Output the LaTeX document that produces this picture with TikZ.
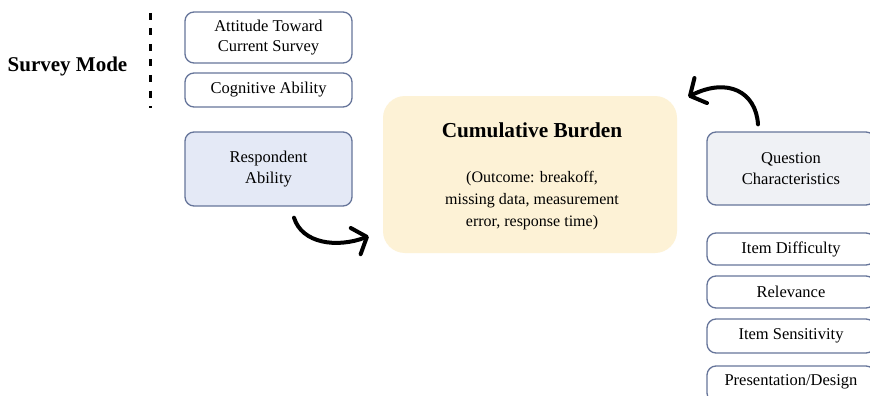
\documentclass[tikz,border=0pt]{standalone}
\usepackage{fontspec}
\setmainfont{Liberation Serif}
\usetikzlibrary{arrows.meta,calc}
\definecolor{boxline}{HTML}{66759A}
\definecolor{respfill}{HTML}{E4E9F6}
\definecolor{qcfill}{HTML}{EFF1F5}
\definecolor{cumfill}{HTML}{FDF2D6}
\tikzset{
  smallbox/.style={draw=boxline, line width=1.3pt, rounded corners=9pt, fill=white,
    minimum width=167pt, align=center, inner sep=0pt,
    font=\fontsize{16.5}{20.5}\selectfont},
  rightbox/.style={smallbox, minimum width=168pt},
  burdenarrow/.style={line width=4pt, line cap=round,
    -{Straight Barb[length=12pt,width=28pt,line cap=round,line join=round]}},
  plain/.style={inner sep=0pt, align=center, font=\fontsize{16}{20.5}\selectfont}
}
\begin{document}
\begin{tikzpicture}[x=1pt,y=-1pt]
\useasboundingbox (0,0) rectangle (870,396);
\clip (0,0) rectangle (870,396);
\fill[white] (0,0) rectangle (870,396);

% left side
\node[inner sep=0pt, font=\fontsize{21}{24}\selectfont\bfseries] (mode) at (67.5,66) {Survey Mode};
\coordinate (dtop) at (150.5,13);
\coordinate (dbot) at (150.5,108);
\draw[line width=2.8pt, dash pattern=on 7pt off 8.5pt] (dtop) -- (dbot);

\node[smallbox, minimum height=51pt] (att) at (268.5,37.5) {Attitude Toward\\Current Survey};
\node[smallbox, minimum height=34pt] (cog) at (268.5,90) {Cognitive Ability};
\node[smallbox, minimum height=74pt, fill=respfill] (resp) at (268.5,169) {Respondent\\Ability};

% centre
\node[fill=cumfill, rounded corners=22pt, minimum width=294pt, minimum height=157pt] (cum) at (530,174.5) {};
\node[inner sep=0pt, font=\fontsize{21.3}{24}\selectfont\bfseries] (cumtitle) at (532,130) {Cumulative Burden};
\node[plain, text depth=0pt] (cumtext) at (532,198.5) {(Outcome: breakoff,\\[1.5pt]missing data, measurement\\[1.5pt]error, response time)};

% right side
\node[rightbox, minimum height=73pt, fill=qcfill] (qc) at (791,168.5) {Question\\Characteristics};
\node[rightbox, minimum height=32pt] (diff) at (791,249) {Item Difficulty};
\node[rightbox, minimum height=32pt] (rel) at (791,292) {Relevance};
\node[rightbox, minimum height=34pt] (sens) at (791,336) {Item Sensitivity};
\node[rightbox, minimum height=36pt] (pres) at (791,384) {\raisebox{8pt}{Presentation/Design}};

% arrows
\draw[burdenarrow] ([xshift=25.5pt,yshift=-11pt]resp.south)
  .. controls +(8,26) and +(-32,12) .. ([xshift=-14pt,yshift=17pt]cum.south west);
\draw[burdenarrow] ([xshift=-33pt,yshift=7pt]qc.north)
  .. controls +(-2,-32) and +(40,-20) .. ([xshift=11pt,yshift=-1pt]cum.north east);
\end{tikzpicture}
\end{document}
